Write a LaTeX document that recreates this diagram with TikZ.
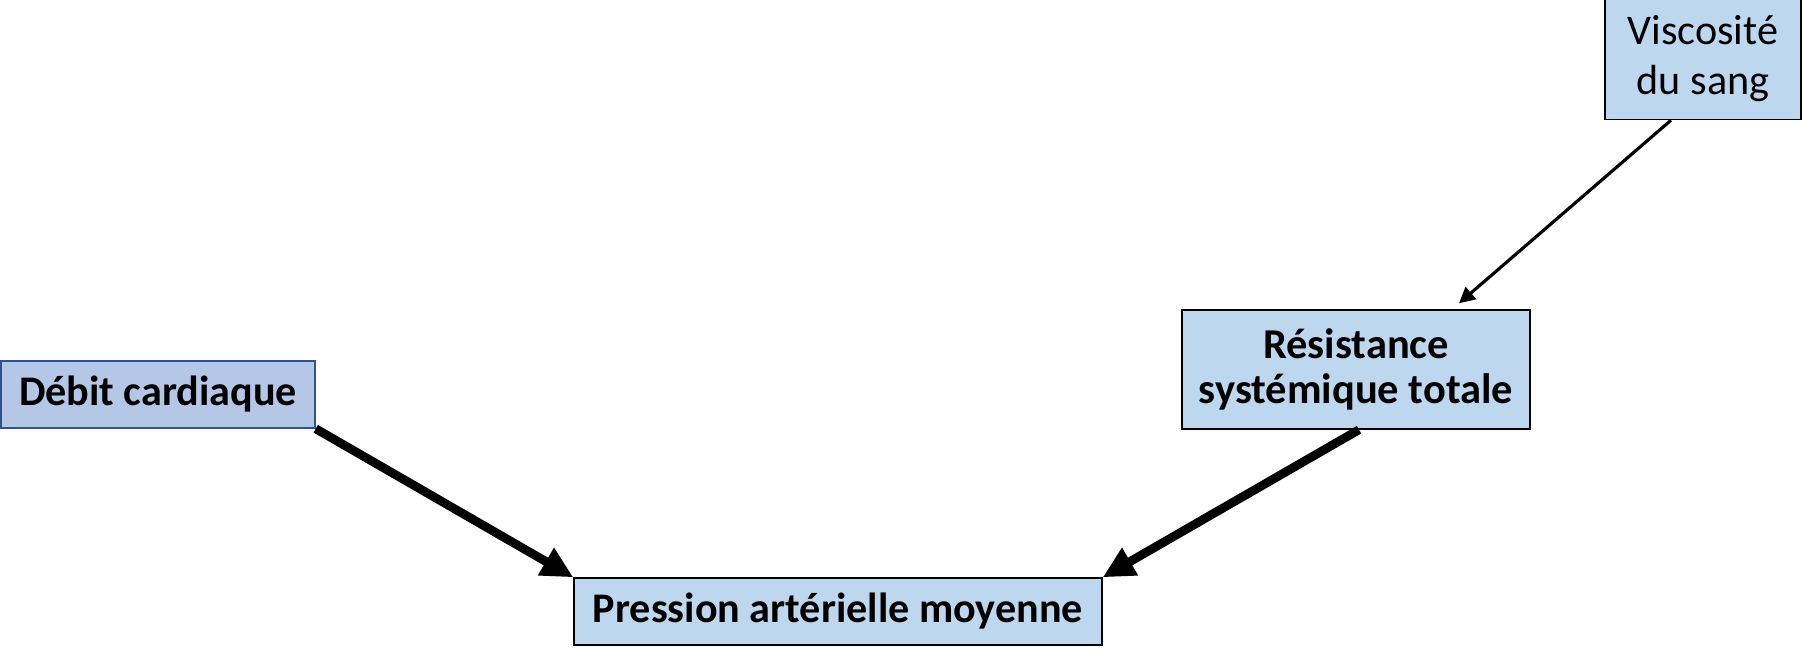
\documentclass[tikz,border=0pt]{standalone}
\usepackage{fontspec}
\setmainfont{Carlito}
\usetikzlibrary{arrows.meta,calc}
\definecolor{boxfill}{HTML}{BDD7EE}
\definecolor{dfill}{HTML}{B4C7E7}
\definecolor{dborder}{HTML}{2F528F}
\tikzset{
  box/.style={draw=black, line width=0.8pt, fill=boxfill, inner sep=0pt, align=center},
  thickarrow/.style={line width=5pt, -{Triangle[length=18pt,width=17pt]}},
  thinarrow/.style={line width=1.8pt, -{Triangle[length=9pt,width=9pt]}},
}
\begin{document}
\begin{tikzpicture}[x=0.02cm,y=-0.02cm]
\useasboundingbox (0,0) rectangle (1802,647);
\node[box, minimum width=196*0.02cm, minimum height=121*0.02cm, font=\fontsize{24}{28.5}\selectfont] (visc) at (1703,59) {Viscosité\\du sang};
\node[box, minimum width=348*0.02cm, minimum height=119*0.02cm, font=\bfseries\fontsize{24.2}{25.5}\selectfont] (res) at (1356,369.5) {Résistance\\systémique totale};
\node[box, draw=dborder, fill=dfill, minimum width=314*0.02cm, minimum height=67*0.02cm, font=\bfseries\fontsize{24}{28}\selectfont] (deb) at (158,394.5) {Débit cardiaque};
\node[box, minimum width=528*0.02cm, minimum height=67*0.02cm, font=\bfseries\fontsize{24}{28}\selectfont] (pam) at (838,611.5) {Pression artérielle moyenne};
\draw[thinarrow] ($(visc.south)+(-32,0)$) -- ($(res.north)+(103,-6)$);
\draw[thickarrow] (deb.south east) -- (pam.north west);
\draw[thickarrow] ($(res.south)+(3,0)$) -- (pam.north east);
\end{tikzpicture}
\end{document}
